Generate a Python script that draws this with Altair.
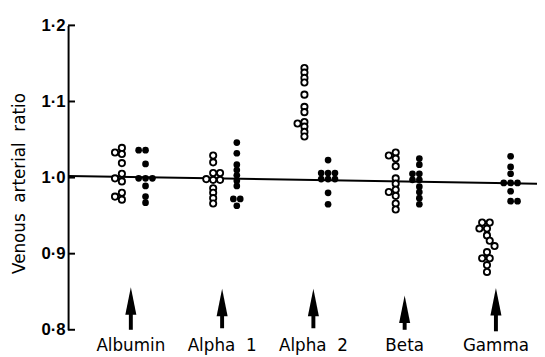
import altair as alt
import pandas as pd

# ---------------- data ----------------
groups = ["Albumin", "Alpha 1", "Alpha 2", "Beta", "Gamma"]
group_labels = ["Albumin", "Alpha\u00a0\u00a01", "Alpha\u00a0\u00a02", "Beta", "Gamma"]

# open circles (one series per fraction) : ratio values and side-by-side slot
albumin_open = [1.033, 1.039, 1.031, 1.019, 0.999, 1.005, 0.995, 0.975, 0.980, 0.971]
albumin_open_slot = [-1, 0, 0, 0, -1, 0, 0, -1, 0, 0]
alpha1_open = [1.029, 1.020, 0.998, 1.006, 0.997, 1.006, 0.997, 0.986, 0.980, 0.973, 0.966]
alpha1_open_slot = [0, 0, -1, 0, 0, 1, 1, 0, 0, 0, 0]
alpha2_open = [1.144, 1.138, 1.131, 1.125, 1.109, 1.093, 1.086, 1.073, 1.071, 1.067, 1.060, 1.054]
alpha2_open_slot = [0, 0, 0, 0, 0, 0, 0, 0, -1, 0, 0, 0]
beta_open = [1.029, 1.033, 1.025, 1.015, 0.999, 0.992, 0.981, 0.984, 0.976, 0.966, 0.958]
beta_open_slot = [-1, 0, 0, 0, 0, 0, -1, 0, 0, 0, 0]
gamma_open = [0.941, 0.941, 0.933, 0.933, 0.924, 0.917, 0.910, 0.902, 0.894, 0.894, 0.885, 0.876]
gamma_open_slot = [-0.7, 0.4, -1.1, 0, 0, 0.4, 1.1, 0, -0.7, 0.4, 0, 0]

# filled circles
albumin_filled = [1.036, 1.036, 1.018, 0.999, 0.999, 0.999, 0.989, 0.975, 0.967]
albumin_filled_slot = [-1, 0, 0, -1, 0, 1, 0, 0, 0]
alpha1_filled = [1.046, 1.032, 1.017, 1.010, 1.003, 0.996, 0.989, 0.972, 0.972, 0.963]
alpha1_filled_slot = [0, 0, 0, 0, 0, 0, 0, -0.5, 0.5, 0]
alpha2_filled = [1.023, 1.006, 1.006, 1.006, 0.998, 0.998, 0.998, 0.980, 0.965]
alpha2_filled_slot = [0, -1, 0, 1, -1, 0, 1, 0, 0]
beta_filled = [1.005, 0.997, 1.025, 1.017, 1.005, 0.997, 0.988, 0.981, 0.973, 0.965]
beta_filled_slot = [-1, -1, 0, 0, 0, 0, 0, 0, 0, 0]
gamma_filled = [1.028, 1.014, 1.005, 0.993, 0.993, 0.993, 0.982, 0.969, 0.969]
gamma_filled_slot = [0, 0, 0, -1, 0, 1, 0, 0, 1]

open_series = [albumin_open, alpha1_open, alpha2_open, beta_open, gamma_open]
open_slots = [albumin_open_slot, alpha1_open_slot, alpha2_open_slot, beta_open_slot, gamma_open_slot]
filled_series = [albumin_filled, alpha1_filled, alpha2_filled, beta_filled, gamma_filled]
filled_slots = [albumin_filled_slot, alpha1_filled_slot, alpha2_filled_slot, beta_filled_slot, gamma_filled_slot]

arrow_tip = [0.856, 0.854, 0.854, 0.845, 0.855]
arrow_base = [0.800, 0.802, 0.802, 0.800, 0.798]

y_ticks = [0.8, 0.9, 1.0, 1.1, 1.2]
ref_line_x = [-0.6875, 4.45]
ref_line_y = [1.002, 0.992]

# ---------------- layout constants ----------------
OPEN_SIDE = -0.098
FILLED_SIDE = 0.161
STEP = 0.0755
X_DOMAIN = [-0.6875, 4.3637]
Y_DOMAIN = [0.8, 1.2]

rows = []
for i, g in enumerate(groups):
    for v, s in zip(open_series[i], open_slots[i]):
        rows.append({"group": g, "kind": "open", "ratio": v, "x": i + OPEN_SIDE + s * STEP})
    for v, s in zip(filled_series[i], filled_slots[i]):
        rows.append({"group": g, "kind": "filled", "ratio": v, "x": i + FILLED_SIDE + s * STEP})
pts = pd.DataFrame(rows)

arrows = pd.DataFrame({
    "x": list(range(len(groups))),
    "tip": arrow_tip,
    "shaft_top": [t - 0.02 for t in arrow_tip],
    "base": arrow_base,
    "label": group_labels,
    "label_y": [0.778] * len(groups),
})
ticks_df = pd.DataFrame({"v": y_ticks})
line_df = pd.DataFrame({"x": ref_line_x, "y": ref_line_y})

xs = alt.Scale(domain=X_DOMAIN, nice=False, zero=False)
ys = alt.Scale(domain=Y_DOMAIN, nice=False, zero=False)

yaxis = alt.Axis(
    values=y_ticks,
    labelExpr="replace(format(datum.value, '.1f'), '.', '·')",
    ticks=False,
    grid=False,
    domainColor="black",
    domainWidth=2,
    labelFont="Liberation Sans",
    labelFontWeight="bold",
    labelFontSize=17,
    labelColor="black",
    labelPadding=3,
    title="Venous\u00a0 arterial\u00a0 ratio",
    titleFont="DejaVu Sans",
    titleFontSize=17,
    titleFontWeight="normal",
    titleColor="black",
    titleX=-49,
    titleY=160,
    titleAngle=-90,
    titleBaseline="middle",
    titleAlign="center",
)

base_axis = alt.Chart(ticks_df).mark_rule(color="black", strokeWidth=2).encode(
    y=alt.Y("v:Q", scale=ys, axis=yaxis),
    x=alt.value(0),
    x2=alt.value(7),
)

ref_line = alt.Chart(line_df).mark_line(color="black", strokeWidth=2, clip=False).encode(
    x=alt.X("x:Q", scale=xs, axis=None),
    y=alt.Y("y:Q", scale=ys),
)

open_pts = alt.Chart(pts).transform_filter(alt.datum.kind == "open").mark_point(
    shape="circle", filled=True, fill="white", stroke="black", strokeWidth=1.9, size=40, opacity=1
).encode(x=alt.X("x:Q", scale=xs, axis=None), y=alt.Y("ratio:Q", scale=ys))

filled_pts = alt.Chart(pts).transform_filter(alt.datum.kind == "filled").mark_circle(
    color="black", size=46, opacity=1
).encode(x=alt.X("x:Q", scale=xs, axis=None), y=alt.Y("ratio:Q", scale=ys))

shafts = alt.Chart(arrows).mark_rule(color="black", strokeWidth=4, clip=False).encode(
    x=alt.X("x:Q", scale=xs, axis=None),
    y=alt.Y("shaft_top:Q", scale=ys),
    y2="base:Q",
)

heads = alt.Chart(arrows).mark_point(
    shape="M0,0L0.4,2L-0.4,2Z", filled=True, color="black", size=784, opacity=1, clip=False
).encode(x=alt.X("x:Q", scale=xs, axis=None), y=alt.Y("tip:Q", scale=ys))

labels = alt.Chart(arrows).mark_text(
    font="DejaVu Sans", fontSize=17, color="black", align="center", baseline="middle", clip=False
).encode(
    x=alt.X("x:Q", scale=xs, axis=None),
    y=alt.Y("label_y:Q", scale=ys),
    text="label:N",
)

chart = alt.layer(base_axis, ref_line, shafts, heads, labels, open_pts, filled_pts).properties(
    width=468,
    height=309,
    autosize=alt.AutoSizeParams(type="none"),
    padding={"left": 61, "top": 15, "right": 8, "bottom": 26},
    background="white",
).configure_view(stroke=None)

chart.save("out.html", embed_options={"renderer": "svg", "actions": False})
